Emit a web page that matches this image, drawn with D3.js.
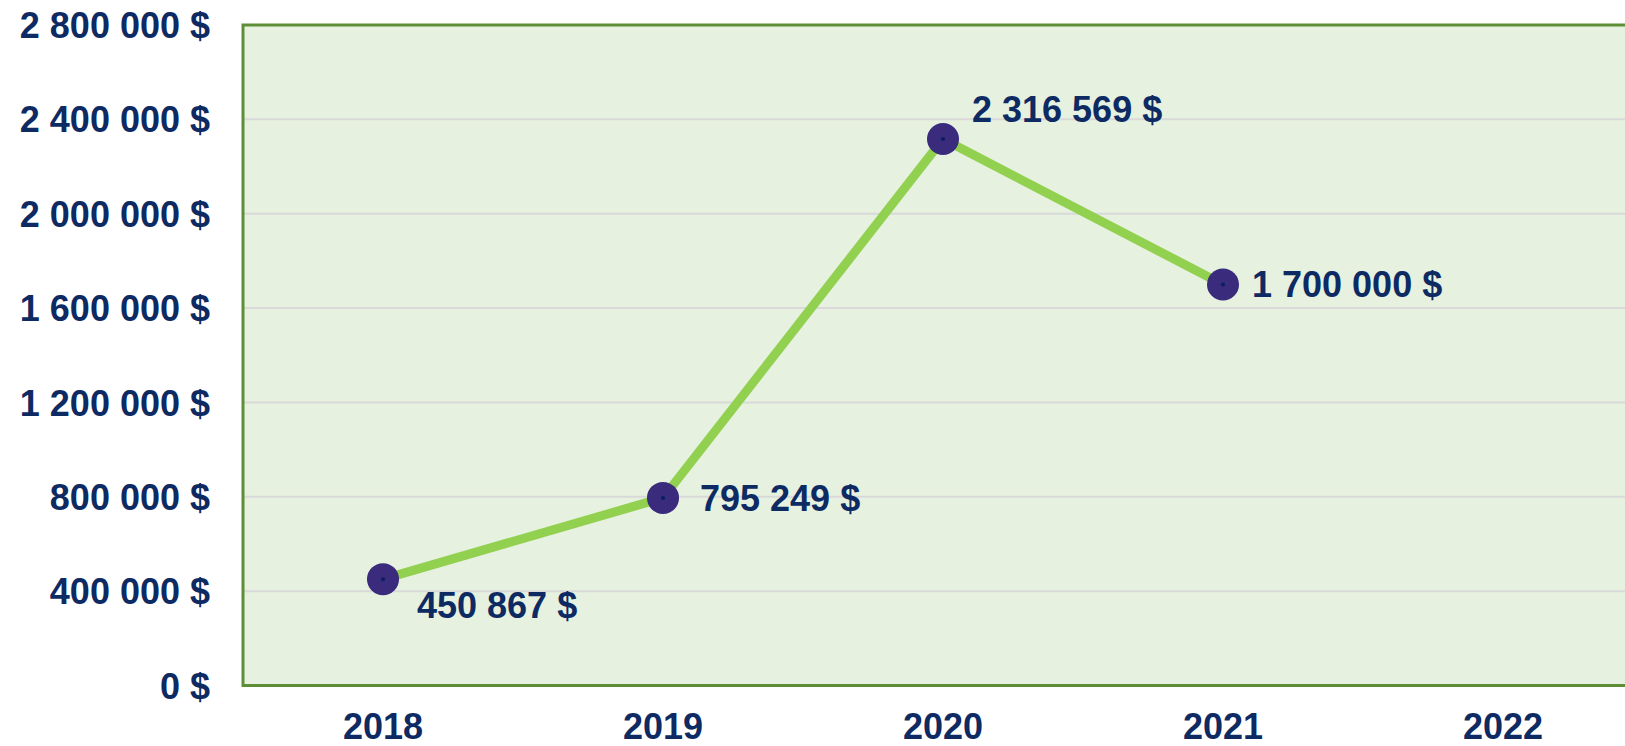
<!DOCTYPE html>
<html>
<head>
<meta charset="utf-8">
<script src="https://cdn.jsdelivr.net/npm/d3@7"></script>
<style>
  body { margin: 0; background: #fff; overflow: hidden; }
  svg text { font-family: Arial, "Liberation Sans", sans-serif; font-weight: bold; fill: #0d2a63; }
</style>
</head>
<body>
<svg id="chart"></svg>
<script>
let years = ['2018', '2019', '2020', '2021', '2022']
let revenue = [450867, 795249, 2316569, 1700000]
let yTicks = [0, 400000, 800000, 1200000, 1600000, 2000000, 2400000, 2800000]

let width = 1625, height = 746
let margin = { top: 25, left: 243, bottom: 60 }
let fontSize = 36

// where each value label sits next to its point
let labelPlace = { '2018': 'below', '2020': 'above' }

let fmt = v => d3.format(',')(v).replace(/,/g, ' ') + ' $'

let svg = d3.select('#chart').attr('width', width).attr('height', height)

let x = d3.scaleBand().domain(years).range([margin.left, margin.left + 1400])
let y = d3.scaleLinear().domain([0, 2800000]).range([height - margin.bottom - 0.5, margin.top])

// plot background
svg.append('rect')
    .attr('x', margin.left)
    .attr('y', margin.top)
    .attr('width', 1400)
    .attr('height', y(0) - margin.top)
    .attr('fill', '#e6f1df')

// grid
svg.append('g')
    .selectAll('line')
    .data(yTicks.filter(t => t > 0 && t < 2800000))
    .join('line')
    .attr('x1', margin.left)
    .attr('x2', margin.left + 1400)
    .attr('y1', d => y(d))
    .attr('y2', d => y(d))
    .attr('stroke', '#d9d9d9')
    .attr('stroke-width', 2)

// border
svg.append('rect')
    .attr('x', margin.left)
    .attr('y', margin.top)
    .attr('width', 1400)
    .attr('height', y(0) - margin.top)
    .attr('fill', 'none')
    .attr('stroke', '#5e8f36')
    .attr('stroke-width', 3)

// y axis
let yAxis = svg.append('g')
    .attr('transform', `translate(${margin.left},0)`)
    .call(d3.axisLeft(y).tickValues(yTicks).tickFormat(fmt).tickSize(0).tickPadding(33))
yAxis.select('.domain').remove()
yAxis.selectAll('text').style('font-size', fontSize + 'px').attr('dy', '0.35em')

// x axis
let xAxis = svg.append('g')
    .attr('transform', `translate(0,${y(0)})`)
    .call(d3.axisBottom(x).tickSize(0).tickPadding(28))
xAxis.select('.domain').remove()
xAxis.selectAll('text').style('font-size', fontSize + 'px')

let pts = revenue.map((v, i) => ({ year: years[i], value: v }))
let cx = d => x(d.year) + x.bandwidth() / 2

// line
svg.append('path')
    .datum(pts)
    .attr('fill', 'none')
    .attr('stroke', '#92d050')
    .attr('stroke-width', 9)
    .attr('d', d3.line().x(cx).y(d => y(d.value)))

// markers
svg.append('g')
    .selectAll('circle')
    .data(pts)
    .join('circle')
    .attr('cx', cx)
    .attr('cy', d => y(d.value))
    .attr('r', 16)
    .attr('fill', '#3a2b7d')

svg.append('g')
    .selectAll('circle')
    .data(pts)
    .join('circle')
    .attr('cx', cx)
    .attr('cy', d => y(d.value))
    .attr('r', 2)
    .attr('fill', '#0a1f5c')

// value labels
svg.append('g')
    .selectAll('text')
    .data(pts)
    .join('text')
    .attr('x', d => {
        let p = labelPlace[d.year]
        if (p == 'below') return cx(d) + 34
        if (p == 'above') return cx(d) + 29
        return cx(d) + (d.year == '2019' ? 37 : 29)
    })
    .attr('y', d => {
        let p = labelPlace[d.year]
        if (p == 'below') return y(d.value) + 39
        if (p == 'above') return y(d.value) - 17
        return y(d.value)
    })
    .attr('dy', d => labelPlace[d.year] ? 0 : '0.35em')
    .style('font-size', fontSize + 'px')
    .text(d => fmt(d.value))
</script>
</body>
</html>
